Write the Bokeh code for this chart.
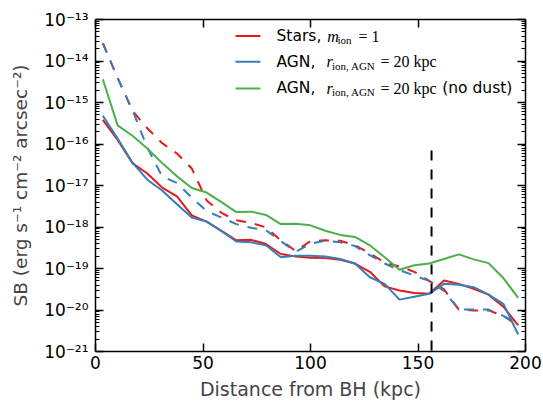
from bokeh.plotting import figure
from bokeh.models import FixedTicker, LogAxis, LinearAxis, Label, Range1d
from bokeh.embed import file_html
from bokeh.resources import INLINE

# ---- data (log10 of surface brightness) ----
dist_kpc = [3.4, 10.3, 17.2, 24.1, 31.0, 37.9, 44.8, 51.7, 58.6, 65.5, 72.4, 79.3,
            86.2, 93.1, 100.0, 106.9, 113.8, 120.7, 127.6, 134.5, 141.4, 148.3,
            155.2, 162.1, 169.0, 175.9, 182.8, 189.7, 196.6]

stars_log = [-15.42, -15.90, -16.46, -16.71, -17.05, -17.26, -17.72, -17.87, -18.09,
             -18.32, -18.31, -18.41, -18.65, -18.71, -18.74, -18.75, -18.79, -18.88,
             -19.08, -19.43, -19.53, -19.59, -19.61, -19.29, -19.37, -19.49, -19.63,
             -19.92, -20.37]
agn_log = [-15.32, -15.87, -16.45, -16.86, -17.12, -17.45, -17.77, -17.87, -18.10,
           -18.35, -18.37, -18.44, -18.73, -18.69, -18.69, -18.71, -18.77, -18.88,
           -19.21, -19.37, -19.75, -19.68, -19.61, -19.37, -19.39, -19.45, -19.63,
           -19.85, -20.59]
stars_dashed_log = [-13.57, -14.41, -15.20, -15.62, -15.98, -16.23, -16.59, -17.36,
                    -17.66, -17.84, -17.90, -18.01, -18.32, -18.58, -18.34, -18.32,
                    -18.33, -18.44, -18.63, -18.86, -18.95, -19.08, -19.30, -19.50,
                    -19.99, -20.01, -20.01, -20.14, -20.38]
agn_dashed_log = [-13.57, -14.41, -15.18, -16.09, -16.78, -16.94, -17.29, -17.62,
                  -17.77, -17.93, -18.02, -18.08, -18.34, -18.60, -18.40, -18.33,
                  -18.37, -18.46, -18.68, -18.88, -19.04, -19.17, -19.30, -19.54,
                  -19.99, -19.99, -19.99, -20.14, -20.35]
agn_nodust_log = [-14.44, -15.55, -15.80, -16.11, -16.46, -16.78, -17.06, -17.17,
                  -17.40, -17.64, -17.63, -17.71, -17.93, -17.92, -17.96, -18.09,
                  -18.19, -18.24, -18.44, -18.73, -19.03, -18.92, -18.88, -18.77,
                  -18.66, -18.78, -18.87, -19.23, -19.71]

marker_x = 156.3          # vertical dashed marker (kpc)
marker_top = 7e-17        # top of the marker line

x_ticks = [0, 50, 100, 150, 200]
y_ticks = [1e-21, 1e-20, 1e-19, 1e-18, 1e-17, 1e-16, 1e-15, 1e-14, 1e-13]
y_tick_labels = ["10⁻²¹", "10⁻²⁰", "10⁻¹⁹", "10⁻¹⁸", "10⁻¹⁷", "10⁻¹⁶",
                 "10⁻¹⁵", "10⁻¹⁴", "10⁻¹³"]

RED, BLUE, GREEN = "#e41a1c", "#377eb8", "#4daf4a"


def sb(logs):
    return [10.0 ** v for v in logs]


p = figure(width=543, height=402, output_backend="svg", toolbar_location=None,
           x_range=Range1d(0, 200), y_range=Range1d(1e-21, 1e-13),
           y_axis_type="log",
           min_border_left=95, min_border_right=18, min_border_top=19,
           min_border_bottom=49)
p.grid.visible = False
p.outline_line_color = None
p.background_fill_color = "white"

minor = [m * d for d in y_ticks[:-1] for m in range(2, 10)]
yt = FixedTicker(ticks=y_ticks, minor_ticks=minor)
xt = FixedTicker(ticks=x_ticks, minor_ticks=[])
overrides = {t: lab for t, lab in zip(y_ticks, y_tick_labels)}

FONT = "DejaVu Sans"


def style(ax, labels=True):
    ax.axis_line_width = 1.5
    ax.axis_line_color = "black"
    ax.major_tick_in = 8
    ax.major_tick_out = 0
    ax.minor_tick_in = 4
    ax.minor_tick_out = 0
    ax.major_tick_line_width = 1.5
    ax.minor_tick_line_width = 1
    ax.major_label_text_font = FONT
    ax.axis_label_text_font = FONT
    ax.axis_label_text_font_style = "normal"
    if labels:
        ax.major_label_text_font_size = "17px"
        ax.axis_label_text_font_size = "19px"
        ax.major_label_text_color = "black"
    else:
        ax.major_label_text_font_size = "1px"
        ax.major_label_text_color = None
        ax.major_label_standoff = 0


xa = p.xaxis[0]
xa.ticker = xt
style(xa)
xa.axis_label = "Distance from BH (kpc)"
xa.major_label_standoff = 4
xa.axis_label_standoff = 6

ya = p.yaxis[0]
ya.ticker = yt
style(ya)
ya.major_label_overrides = overrides
ya.axis_label = "SB (erg s⁻¹ cm⁻² arcsec⁻²)"
ya.axis_label_text_font_size = "18.5px"
ya.major_label_standoff = 7
ya.axis_label_standoff = 10

top = LinearAxis(ticker=xt)
style(top, labels=False)
p.add_layout(top, "above")
right = LogAxis(ticker=yt)
style(right, labels=False)
p.add_layout(right, "right")

# ---- data lines ----
p.line(dist_kpc, sb(stars_log), line_color=RED, line_width=2)
p.line(dist_kpc, sb(stars_dashed_log), line_color=RED, line_width=2, line_dash="10 9")
p.line(dist_kpc, sb(agn_log), line_color=BLUE, line_width=2)
p.line(dist_kpc, sb(agn_dashed_log), line_color=BLUE, line_width=2, line_dash="10 9")
p.line(dist_kpc, sb(agn_nodust_log), line_color=GREEN, line_width=2)

p.line([marker_x, marker_x], [marker_top, 1e-21], line_color="black",
       line_width=2, line_dash="10 9")

# ---- legend (manual, so that the math parts can be typeset) ----
leg_x0, leg_x1, leg_tx = 65.1, 76.7, 84.2
leg_rows = [10 ** -13.40, 10 ** -14.02, 10 ** -14.66]
for yv, c in zip(leg_rows, [RED, BLUE, GREEN]):
    p.line([leg_x0, leg_x1], [yv, yv], line_color=c, line_width=2)

SERIF = "Liberation Serif"


def lab(text, yv, dx, font=FONT, size="15.5px", style_="normal", dy=0):
    p.add_layout(Label(x=leg_tx, y=yv, x_offset=dx, y_offset=dy, text=text,
                       text_font=font, text_font_size=size,
                       text_font_style=style_, text_baseline="middle",
                       text_align="left", text_color="black"))


lab("Stars,", leg_rows[0], 0)
lab("m", leg_rows[0], 50.7, SERIF, "16px", "italic")
lab("ion", leg_rows[0], 61, SERIF, "11px", dy=-4)
lab("= 1", leg_rows[0], 82, SERIF, "16px")

for yv in leg_rows[1:]:
    lab("AGN,", yv, 0)
    lab("r", yv, 50, SERIF, "16px", "italic")
    lab("ion, AGN", yv, 55.5, SERIF, "11px", dy=-4)
    lab("= 20 kpc", yv, 104, SERIF, "16px")
lab("(no dust)", leg_rows[2], 165.7)

open("out.html", "w").write(file_html(p, INLINE))
